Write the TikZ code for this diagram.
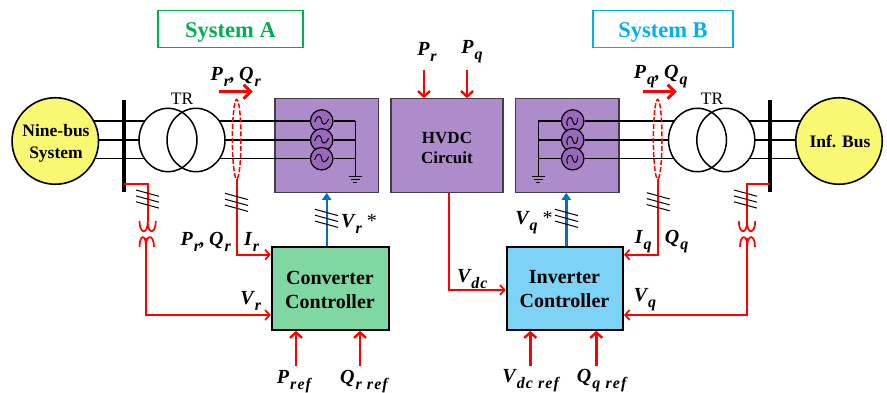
\documentclass[tikz,border=0pt]{standalone}
\usepackage{fontspec}
\setmainfont{Liberation Serif}
\usetikzlibrary{arrows.meta,calc}
\pgfdeclarelayer{under}
\pgfdeclarelayer{wires}
\pgfsetlayers{under,wires,main}
\definecolor{purp}{HTML}{AE8CCB}
\definecolor{gen}{HTML}{9A68BC}
\definecolor{yel}{HTML}{F8F872}
\definecolor{grn}{HTML}{7FD7A2}
\definecolor{cya}{HTML}{7DD3F5}
\definecolor{sysg}{HTML}{00B050}
\definecolor{sysb}{HTML}{00B0F0}
\definecolor{ctrlblue}{HTML}{0070C0}
\newcommand{\sz}[1]{\fontsize{#1}{1.15\dimexpr #1pt\relax}\selectfont}
\newcommand{\vlab}[2]{{\bfseries\itshape #1\kern1pt\raisebox{-0.3em}{\sz{16}\addfontfeature{LetterSpace=7}#2}}}
\tikzset{
 box/.style={draw=black!75,line width=1.2pt,fill=purp,minimum width=103.5pt,minimum height=93.5pt,inner sep=0},
 boxtext/.style={inner sep=0,align=center,font=\sz{17}\bfseries},
 ctrl/.style={draw=black,line width=2pt,minimum height=83pt,inner sep=0},
 ctrltext/.style={inner sep=0,align=center,font=\sz{20}\bfseries},
 bigc/.style={circle,draw=black,line width=1.6pt,fill=yel,minimum size=86.5pt,inner sep=0},
 bigtext/.style={inner sep=0,align=center,font=\sz{17.5}\bfseries},
 gennode/.style={circle,draw=black,line width=1.2pt,fill=gen,minimum size=22.5pt,inner sep=0},
 wire/.style={draw=black,line width=1.5pt},
 sig/.style={draw=red,line width=1.7pt},
 sigarrow/.style={draw=red,line width=1.7pt,-{Straight Barb[length=4.5pt,width=10pt,line width=1.7pt]}},
 refarrow/.style={draw=red,line width=2.6pt,-{Straight Barb[length=5.5pt,width=12pt,line width=2.4pt]}},
 flow/.style={draw=red,line width=3pt,-{Straight Barb[length=7pt,width=14pt,line width=3pt]}},
 blue arrow/.style={draw=ctrlblue,line width=2.4pt,-{Triangle[length=7pt,width=9pt]}},
 slash/.style={draw=black,line width=1pt},
 lab/.style={inner sep=0,font=\sz{20},yshift=-2pt},
 title/.style={draw=#1,line width=1.5pt,text=#1,minimum height=37pt,inner sep=0,font=\sz{22.5}\bfseries,text height=17pt,text depth=0pt},
 plain/.style={inner sep=0,font=\sz{17.5}},
 bus/.style={draw=black,line width=3.5pt}
}
\begin{document}
\begin{tikzpicture}[x=1pt,y=-1pt]
\useasboundingbox (0,0) rectangle (887,393);
% titles
\node[title=sysg,minimum width=145pt] (sysA) at (230.5,29) {System A};
\node[title=sysb,minimum width=140pt] (sysB) at (663,29) {System B};
% sources
\node[bigc] (nb) at (55.3,141) {};
\node[bigc] (inf) at (839,141) {};
\node[bigtext] (nbt) at (56,143.5) {Nine-bus\\[2pt]System};
\node[bigtext] (inft) at (840,141.5) {Inf. Bus};
% buses
\coordinate (busLt) at (124,100); \coordinate (busLb) at (124,192.5);
\coordinate (busRt) at (770,100); \coordinate (busRb) at (770,192.5);
\draw[bus] (busLt) -- (busLb);
\draw[bus] (busRt) -- (busRb);
% converter boxes
\begin{pgfonlayer}{under}
\node[box] (conv) at (326.7,145.5) {};
\node[box,minimum width=112pt] (hvdc) at (447,145.5) {};
\node[box] (invb) at (567.3,145.5) {};
\end{pgfonlayer}
\node[boxtext] (hvdct) at (447,148) {HVDC\\[1pt]Circuit};
% generators
\foreach \n/\y in {1/121,2/140,3/158.7}{
  \node[gennode] (gl\n) at (321.7,\y) {};
  \node[gennode] (gr\n) at (572.7,\y) {};
  \draw[line width=1pt] (321.7-7,\y+1) .. controls (321.7-3.5,\y-9) and (321.7+0,\y-3) .. (321.7,\y) .. controls (321.7,\y+3) and (321.7+3.5,\y+6) .. (321.7+7,\y-2);
  \draw[line width=1pt] (572.7-5,\y+5) .. controls (572.7-8,\y-1) and (572.7-2,\y-8) .. (572.7,\y) .. controls (572.7+2,\y+7) and (572.7+5,\y+3) .. (572.7+5,\y-3);
}
% transformers (white discs)
\foreach \cx/\nm in {168/a,196/b,697.5/c,725.8/d}{
  \path[fill=white] (\cx,140) ellipse [x radius=29,y radius=31.7];
}
\foreach \cx/\nm in {168/a,196/b,697.5/c,725.8/d}{
  \draw[line width=1.5pt] (\cx,140) ellipse [x radius=29,y radius=31.7];
  \coordinate (tr\nm) at (\cx,140);
}
\node[plain] (trl) at (182,98.5) {TR};
\node[plain] (trr) at (712,98.5) {TR};
% three-phase wires
\begin{pgfonlayer}{wires}
\foreach \n in {1,2,3}{
  \draw[wire] (nb.center |- gl\n) -- (tra |- gl\n);
  \draw[wire] (trb |- gl\n) -- (gl\n);
  \draw[wire] (gr\n) -- (trc |- gr\n);
  \draw[wire] (trd |- gr\n) -- (inf.center |- gr\n);
  \draw[wire] (gl\n) -- (355.3,0 |- gl\n);
  \draw[wire] (gr\n) -- (538.3,0 |- gr\n);
}
\end{pgfonlayer}
% grounds
\coordinate (gndl) at (355.3,176.7);
\coordinate (gndr) at (538.3,176.7);
\begin{pgfonlayer}{wires}
\draw[wire] (gndl |- gl1) -- (gndl);
\draw[wire] (gndr |- gr1) -- (gndr);
\end{pgfonlayer}
\foreach \g in {gndl,gndr}{
  \draw[line width=1.1pt] ($(\g)+(-6.5,0)$) -- ($(\g)+(6.5,0)$);
  \draw[line width=1.1pt] ($(\g)+(-4.3,3)$) -- ($(\g)+(4.3,3)$);
  \draw[line width=1.3pt] ($(\g)+(-2,6)$) -- ($(\g)+(2,6)$);
}
% controllers
\node[ctrl,fill=grn,minimum width=117.5pt] (cc) at (330.5,288.3) {};
\node[ctrl,fill=cya,minimum width=116.3pt] (ic) at (564.8,288.3) {};
\node[ctrltext] (cct) at (330,289.5) {Converter\\[1pt]Controller};
\node[ctrltext] (ict) at (564.5,289.5) {Inverter\\[1pt]Controller};
% measurement ellipses
\coordinate (ell) at (236.7,179);
\coordinate (elr) at (657.7,179);
\draw[red,line width=1.5pt,dash pattern=on 5pt off 2pt] (236.7,139.2) ellipse [x radius=4.3,y radius=39.8];
\draw[red,line width=1.5pt,dash pattern=on 5pt off 2pt] (657.7,139.2) ellipse [x radius=4.3,y radius=39.8];
% coils
\coordinate (cul) at (147.7,222); \coordinate (cll) at (146,238);
\coordinate (cur) at (747,222); \coordinate (clr) at (747.3,238);
\draw[sig] (139.5,221) .. controls (139.5,234.5) and (147.7,234.5) .. (cul) .. controls (147.7,234.5) and (155.8,234.5) .. (155.8,221);
\draw[sig] (139.5,247) .. controls (139.5,234) and (146,234) .. (146,246) .. controls (146,234) and (154,234) .. (154,247);
\draw[sig] (738.8,221) .. controls (738.8,234.5) and (747,234.5) .. (cur) .. controls (747,234.5) and (755.2,234.5) .. (755.2,221);
\draw[sig] (740,247) .. controls (740,234) and (747.3,234) .. (747.3,246) .. controls (747.3,234) and (755,234) .. (755,247);
% red signal connectors
\draw[sig] (busLb |- 0,184.3) -| (cul);
\draw[sig] (busRb |- 0,184.3) -| (cur);
\draw[sigarrow] (cll) |- (cc.west |- 0,315);
\draw[sigarrow] (clr) |- (ic.east |- 0,315);
\draw[sigarrow] (ell) |- (cc.west |- 0,254.7);
\draw[sigarrow] (elr) |- (ic.east |- 0,254.7);
\draw[sigarrow] (448.7,0 |- hvdc.south) |- (ic.west |- 0,290);
% blue connectors
\draw[blue arrow] (326.7,0 |- cc.north) -- (326.7,0 |- conv.south);
\draw[blue arrow] (566.3,0 |- ic.north) -- (566.3,0 |- invb.south);
% top arrows
\coordinate (f1a) at (219.3,91.7); \coordinate (f1b) at (252.7,91.7);
\coordinate (f2a) at (643.3,91.7); \coordinate (f2b) at (676.7,91.7);
\draw[flow] (f1a) -- (f1b);
\draw[flow] (f2a) -- (f2b);
\coordinate (hp) at (424,70); \coordinate (hq) at (467,70);
\draw[refarrow] (hp) -- (hp |- hvdc.north);
\draw[refarrow] (hq) -- (hq |- hvdc.north);
% bottom arrows
\foreach \x/\nd in {296/cc,360/cc,530.3/ic,596.3/ic}{
  \coordinate (ba) at (\x,366);
  \draw[refarrow] (ba) -- (ba |- \nd.south);
}
% slashes
\foreach \x/\y in {136/190,225/193.3,315/209.3,555/209.3,646.7/192.7,734/190}{
  \foreach \k in {0,5.9,11.8}{
    \draw[slash] (\x,\y+\k) -- (\x+23,\y+\k+6.3);
  }
}
% labels
\node[lab] (l1) at (235.7,75) {\vlab{P}{r}{\bfseries\itshape,}\kern-1pt\ \vlab{Q}{r}};
\node[lab] (l2) at (660.7,75) {\vlab{P}{q}{\bfseries\itshape,}\kern-1pt\ \vlab{Q}{q}};
\node[lab] (l3) at (427,50) {\vlab{P}{r}};
\node[lab] (l4) at (472,50) {\vlab{P}{q}};
\node[lab] (l5) at (205.7,240) {\vlab{P}{r}{\bfseries\itshape,}\kern-1pt\ \vlab{Q}{r}};
\node[lab] (l6) at (251.7,240) {\vlab{I}{r}};
\node[lab] (l7) at (250.7,299) {\vlab{V}{r}};
\node[lab] (l8) at (359,222) {\vlab{V}{r} *};
\node[lab] (l9) at (294,380) {\vlab{P}{ref}};
\node[lab] (l10) at (364,380) {\vlab{Q}{r ref}};
\node[lab] (l11) at (530.7,379) {\vlab{V}{dc ref}};
\node[lab] (l12) at (601.7,379) {\vlab{Q}{q ref}};
\node[lab] (l13) at (534,221) {\vlab{V}{q} *};
\node[lab] (l14) at (643.3,240) {\vlab{I}{q}};
\node[lab] (l15) at (676.7,240) {\vlab{Q}{q}};
\node[lab] (l16) at (645,298) {\vlab{V}{q}};
\node[lab] (l17) at (472.3,277) {\vlab{V}{dc}};
\end{tikzpicture}
\end{document}
